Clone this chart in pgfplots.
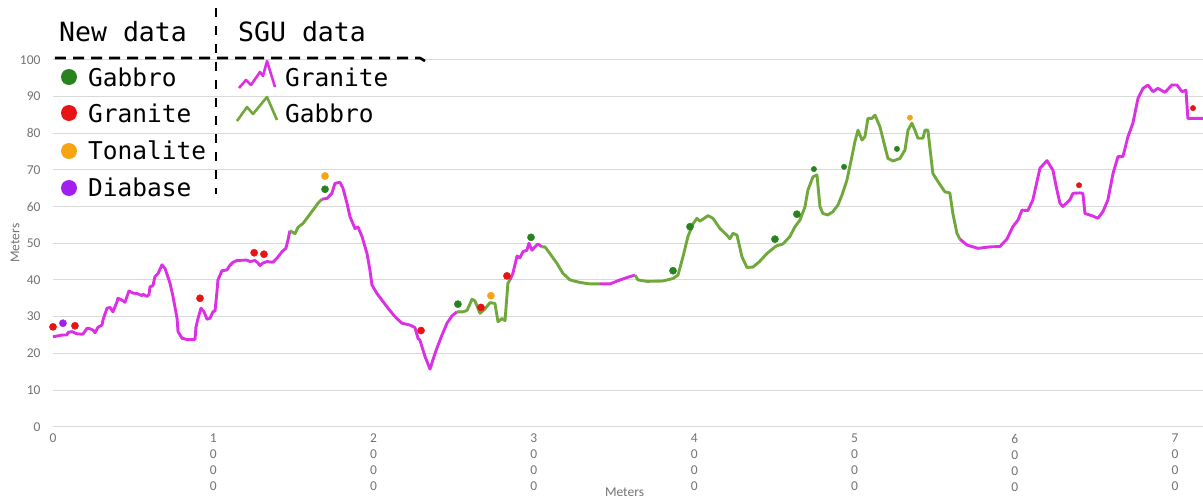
\documentclass[border=0pt]{standalone}
\usepackage{pgfplots}
\pgfplotsset{compat=1.18}
\usepackage{fontspec}
\setmainfont{Carlito}
\newfontfamily\mono{DejaVu Sans Mono}
\definecolor{magline}{RGB}{220,48,228}
\definecolor{grnline}{RGB}{112,168,60}
\definecolor{gabdot}{RGB}{40,130,30}
\definecolor{grndot}{RGB}{232,20,20}
\definecolor{tondot}{RGB}{245,165,20}
\definecolor{diadot}{RGB}{160,30,240}
\definecolor{tickgray}{RGB}{115,115,115}
\definecolor{gridgray}{RGB}{217,217,217}
\begin{document}
\begin{tikzpicture}
\begin{axis}[
  at={(0,0)}, anchor=south west, scale only axis,
  width=1150pt, height=367pt,
  xmin=0, xmax=7174, ymin=0, ymax=100,
  clip=false,
  ytick={0,10,...,100},
  xtick={0,1000,...,7000},
  xticklabels={{0},{1\\0\\0\\0},{2\\0\\0\\0},{3\\0\\0\\0},{4\\0\\0\\0},{5\\0\\0\\0},{6\\0\\0\\0},{7\\0\\0\\0}},
  xticklabel style={align=center, font=\fontsize{13.5}{15.9}\selectfont, text=tickgray, yshift=-4pt},
  yticklabel style={font=\fontsize{13.5}{15}\selectfont, text=tickgray, xshift=-9pt},
  /pgf/number format/assume math mode=true,
  ymajorgrids, grid style={gridgray, line width=1pt},
  axis line style={draw=none},
  major tick length=0pt,
  xlabel={Meters}, ylabel={Meters},
  xlabel style={at={(axis description cs:0.497,-0.178)}, anchor=center, font=\fontsize{13.5}{15}\selectfont, text=tickgray},
  ylabel style={at={(axis description cs:-0.033,0.5)}, anchor=center, font=\fontsize{13.5}{15}\selectfont, text=tickgray},
]
% SGU line segments
\addplot[magline, line width=2.9pt, line join=round] coordinates {
(0,24.5)(62,25)(87,25)(94,25.7)(119,25.9)(150,25.3)(187,25.2)(212,26.8)(225,26.8)(250,26.3)(262,25.6)(281,27.1)(306,27.7)(312,29.1)(337,32.3)(356,32.5)(374,31.3)(399,34)(405,35)(430,34.5)(449,33.9)(474,37)(499,36.4)(524,36.3)(555,35.7)(561,36.1)(586,35.5)(599,36)(605,38.1)(624,38.5)(636,40.9)(655,41.7)(680,44.1)(699,43.1)(730,39.1)(749,35.4)(774,29.5)(780,25.9)(805,24.1)(842,23.7)(886,23.8)(892,27.2)(905,29.5)(923,32.3)(942,31.3)(961,29.3)(979,29.5)(998,31.3)(1011,31.6)(1023,36.8)(1029,40)(1054,42.5)(1085,42.7)(1104,44)(1123,44.8)(1148,45.3)(1210,45.4)(1229,45)(1260,45.3)(1279,44.6)(1291,43.9)(1310,44.6)(1335,45)(1372,44.8)(1397,45.9)(1429,47.7)(1453,48.6)(1466,50.9)(1478,53.4)
};
\addplot[grnline, line width=2.9pt, line join=round] coordinates {
(1478,53.4)(1510,52.6)(1528,54.3)(1560,55.4)(1591,57.2)(1622,59)(1653,60.9)(1678,62)
};
\addplot[magline, line width=2.9pt, line join=round] coordinates {
(1678,62)(1709,62.2)(1740,63.6)(1759,66.3)(1790,66.6)(1809,65)(1834,60.9)(1853,57.2)(1884,54)(1903,54.4)(1928,51.8)(1940,50)(1959,47.2)(1977,42.7)(1990,38.6)(2021,36.3)(2059,34.1)(2090,32.3)(2133,30)(2177,28.2)(2227,27.7)(2258,27)(2277,24.1)(2289,23.6)(2321,19.1)(2352,15.7)(2377,19.1)(2395,21.4)(2427,25)(2458,28.2)(2489,30.2)(2520,31.3)
};
\addplot[grnline, line width=2.9pt, line join=round] coordinates {
(2520,31.3)(2558,31.3)(2583,31.7)(2614,34.7)(2632,34.3)(2664,30.9)(2695,32.1)(2726,33.8)(2757,33.6)(2776,28.6)(2801,29.5)(2820,28.9)(2838,39.1)(2851,40)
};
\addplot[magline, line width=2.9pt, line join=round] coordinates {
(2851,40)(2869,41.8)(2895,46.5)(2913,46)(2932,47.7)(2957,48.1)(2969,50)(2988,48.1)(3007,49)(3025,49.8)(3050,49)
};
\addplot[grnline, line width=2.9pt, line join=round] coordinates {
(3050,49)(3069,49)(3100,47.2)(3144,44.5)(3181,41.8)(3225,40)(3287,39.3)(3350,38.9)(3412,38.9)
};
\addplot[magline, line width=2.9pt, line join=round] coordinates {
(3412,38.9)(3475,38.9)(3537,40)(3599,40.9)(3631,41.3)
};
\addplot[grnline, line width=2.9pt, line join=round] coordinates {
(3631,41.3)(3649,40)(3705,39.6)(3805,39.7)(3868,40.4)(3899,41.3)(3930,46.3)(3961,51.8)(3992,55.2)(4017,56.8)(4036,56)(4086,57.5)(4117,56.8)(4161,54)(4204,52.2)(4223,51.2)(4242,52.7)(4267,52.2)(4298,46.3)(4329,43.4)(4367,43.5)(4410,45.1)(4454,47.2)(4504,49)(4516,49.3)(4554,49.8)(4597,51.8)(4629,54.5)(4660,56.3)(4691,59.9)(4710,64.5)(4741,68.1)(4766,68.6)(4785,59.9)(4803,58.1)(4834,57.7)(4866,58.6)(4897,60.4)(4922,63.1)(4953,67.2)(4984,73.6)(5003,77.7)(5022,80.8)(5047,78.1)(5065,79)(5084,84)(5109,84)(5128,84.9)(5159,81.7)(5190,76.3)(5209,73.1)(5240,72.4)(5284,73.1)(5315,75.4)(5334,80.8)(5358,82.7)(5377,80.8)(5396,78.6)(5427,78.6)(5440,80.8)(5458,80.8)(5489,69)(5521,66.8)(5564,64)(5595,63.7)(5614,58.1)(5639,52.7)(5658,51.1)
};
\addplot[magline, line width=2.9pt, line join=round] coordinates {
(5658,51.1)(5702,49.5)(5770,48.6)(5845,49)(5907,49.1)(5951,51.1)(5988,54.5)(6020,56.3)(6045,59)(6082,58.9)(6113,61.8)(6157,70.4)(6201,72.5)(6238,69.9)(6263,64.5)(6282,60.9)(6300,60)(6344,61.8)(6363,63.6)(6406,63.7)(6425,63.6)(6438,58.1)(6481,57.5)(6519,56.8)(6550,58.6)(6581,61.8)(6613,69)(6644,73.6)(6675,73.6)(6706,79)(6737,82.7)(6769,89.5)(6800,92.2)(6831,93.1)(6862,91.3)(6893,92.2)(6937,91.1)(6980,93.1)(7012,93.1)(7043,91.3)(7068,91.7)(7080,84)(7174,84)
};
% New data points
\addplot[only marks, mark=*, mark size=3.6pt, color=gabdot] coordinates {
(2526,33.4)(2982,51.6)(3868,42.5)(3974,54.5)(4504,51.1)(4641,57.9)(1697,64.7)
};
\addplot[only marks, mark=*, mark size=2.7pt, color=gabdot] coordinates {
(4747,70.2)(4935,70.8)(5265,75.7)
};
\addplot[only marks, mark=*, mark size=3.6pt, color=grndot] coordinates {
(0,27.2)(137,27.5)(917,35)(1255,47.4)(1316,47)(2296,26.2)(2670,32.5)(2832,41.1)
};
\addplot[only marks, mark=*, mark size=2.7pt, color=grndot] coordinates {
(6401,65.8)(7112,86.8)
};
\addplot[only marks, mark=*, mark size=3.6pt, color=tondot] coordinates {
(1697,68.3)(2732,35.7)
};
\addplot[only marks, mark=*, mark size=2.7pt, color=tondot] coordinates {
(5346,84.2)
};
\addplot[only marks, mark=*, mark size=3.6pt, color=diadot] coordinates {
(62,28.2)
};
\end{axis}
% hand-drawn legend, in pixel coordinates of the reference
\begin{scope}[x=1pt, y=-1pt, shift={(-53pt,426.7pt)}]
  \draw[black, line width=2.6pt, dash pattern=on 11pt off 7pt] (55,58) -- (420,58) -- (425,61);
  \draw[black, line width=2.6pt, dash pattern=on 9pt off 9pt] (216,8) -- (216,194);
  \node[anchor=base west, inner sep=0pt, font=\mono\fontsize{26.5}{28}\selectfont] at (59,42) {New data};
  \node[anchor=base west, inner sep=0pt, font=\mono\fontsize{26.5}{28}\selectfont] at (238,42) {SGU data};
  \fill[gabdot] (69,77) circle (8pt);
  \fill[grndot] (69,113) circle (8pt);
  \fill[tondot] (69,151) circle (8pt);
  \fill[diadot] (69,188) circle (8pt);
  \node[anchor=west, inner sep=0pt, font=\mono\fontsize{24.5}{26}\selectfont] at (88,77) {Gabbro};
  \node[anchor=west, inner sep=0pt, font=\mono\fontsize{24.5}{26}\selectfont] at (88,113) {Granite};
  \node[anchor=west, inner sep=0pt, font=\mono\fontsize{24.5}{26}\selectfont] at (88,150) {Tonalite};
  \node[anchor=west, inner sep=0pt, font=\mono\fontsize{24.5}{26}\selectfont] at (88,187) {Diabase};
  \draw[magline, line width=2.6pt, line join=round] (239,88) -- (246,80) -- (251,85) -- (260,72) -- (263,76) -- (267,61) -- (275,87);
  \draw[grnline, line width=2.6pt, line join=round] (237,121) -- (247,107) -- (253,114) -- (267,97) -- (277,120);
  \node[anchor=west, inner sep=0pt, font=\mono\fontsize{24.5}{26}\selectfont] at (285,77) {Granite};
  \node[anchor=west, inner sep=0pt, font=\mono\fontsize{24.5}{26}\selectfont] at (285,113) {Gabbro};
\end{scope}
\pgfresetboundingbox
\path[use as bounding box] (-53pt,-72.3pt) rectangle (1150pt,426.7pt);
\end{tikzpicture}
\end{document}
